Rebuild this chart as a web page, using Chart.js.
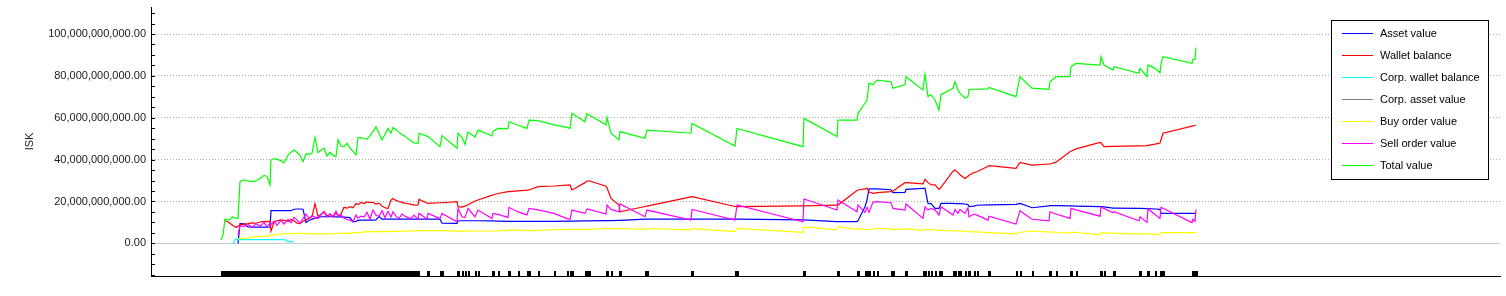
<!DOCTYPE html>
<html>
<head>
<meta charset="utf-8">
<title>ISK</title>
<script src="https://cdn.jsdelivr.net/npm/chart.js@4.4.0/dist/chart.umd.min.js"></script>
<style>
    html, body { margin: 0; padding: 0; background: #fff; }
</style>
</head>
<body>
<canvas id="grafico" width="1506" height="296"></canvas>
<script>
//Días desde la primera captura (eje x sin etiquetas)
const days = [
    0, 2, 4, 8, 12, 15, 17, 19, 23, 27,
    31, 35, 39, 43, 46, 49, 50, 53, 56, 60,
    63, 67, 70, 73, 76, 79, 82, 85, 88, 91,
    94, 97, 100, 103, 106, 109, 112, 115, 117, 120,
    123, 126, 129, 132, 135, 137, 140, 143, 146, 149,
    152, 155, 158, 161, 164, 167, 170, 172, 175, 178,
    181, 184, 187, 190, 193,
    197, 198, 206, 207, 219, 221, 236, 237, 241, 244,
    247, 254, 257, 271, 272, 277, 287, 288, 297, 306,
    308, 317, 333, 346, 349, 351, 364, 366, 368, 385,
    386, 390, 398, 399, 424, 426, 470, 471, 514, 516,
    582, 583, 616, 617, 636, 637, 644, 646, 648, 652,
    656, 670, 672, 684, 685, 702, 704, 707, 710, 714,
    718, 720, 732, 734, 737, 739, 744, 747, 748, 753,
    756, 767, 768, 795, 799, 811, 828, 829, 835, 849,
    850, 855, 879, 880, 883, 892, 893, 918, 919, 926,
    927, 934, 939, 940, 942, 971, 972, 974, 975
];

//Valores en miles de millones de ISK
const assetValue = [
    null, null, null, null, null, null, 0.0, 9.4, 9.3, 7.8,
    7.7, 7.7, 7.7, 7.7, 7.7, 7.8, 15.6, 15.6, 15.6, 15.6,
    15.6, 15.6, 15.6, 16.3, 16.4, 16.4, 16.3, 10.0, 11.0, 11.6,
    12.0, 12.4, 12.7, 12.7, 12.8, 12.7, 12.7, 12.6, 12.6, 12.6,
    12.5, 12.4, 12.3, 10.3, 10.5, 11.0, 11.1, 11.1, 11.1, 11.1,
    11.1, 11.2, 12.8, 11.6, 11.6, 11.6, 11.6, 11.6, 11.6, 11.6,
    11.6, 11.6, 11.6, 11.6, 11.6,
    11.6, 11.6, 11.6, 11.6, 11.6, 9.6, 9.5, 10.8, 10.8, 10.8,
    10.8, 10.8, 10.8, 10.7, 10.7, 10.6, 10.5, 10.5, 10.5, 10.5,
    10.5, 10.5, 10.5, 10.6, 10.6, 10.6, 10.7, 10.7, 10.7, 10.9,
    10.9, 10.9, 11.0, 11.0, 11.6, 11.6, 11.6, 11.6, 11.6, 11.6,
    11.2, 11.2, 10.4, 10.4, 10.4, 10.8, 17.5, 20.7, 26.0, 26.0,
    26.0, 25.6, 24.2, 24.3, 25.8, 26.3, 26.3, 19.1, 19.0, 16.7,
    16.7, 19.1, 19.1, 19.0, 19.0, 19.0, 18.8, 18.5, 17.5, 17.8,
    18.2, 18.4, 18.4, 18.6, 19.1, 17.0, 17.9, 18.0, 18.0, 17.9,
    17.9, 17.8, 17.5, 17.5, 17.4, 16.8, 16.8, 16.7, 16.7, 16.6,
    16.6, 16.4, 16.2, 14.3, 14.3, 14.3, 14.3, 14.3, 14.3
];

const walletBalance = [
    null, null, 10.8, 10.0, 8.5, 7.6, 8.2, 8.8, 9.2, 9.4,
    9.8, 9.6, 10.2, 10.5, 10.4, 10.6, 5.8, 10.2, 10.8, 11.2,
    11.0, 10.5, 11.4, 10.8, 9.6, 9.4, 10.6, 11.2, 12.0, 12.8,
    19.0, 13.0, 13.6, 15.2, 13.0, 14.0, 12.5, 14.5, 13.2, 14.0,
    17.2, 16.8, 17.5, 17.0, 19.0, 18.5, 19.5, 19.0, 19.8, 19.5,
    19.6, 18.8, 19.2, 17.8, 17.0, 16.6, 20.6, 21.4, 20.5, 20.0,
    19.6, 19.2, 18.9, 18.6, 18.3,
    18.4, 21.0, 19.3, 19.1, 19.4, 19.4, 19.9, 17.5, 17.3, 17.8,
    18.4, 20.2, 20.7, 23.0, 23.1, 23.8, 24.7, 24.7, 25.1, 25.4,
    25.5, 27.1, 27.4, 27.8, 27.9, 25.5, 29.0, 29.8, 29.9, 27.3,
    26.5, 21.5, 18.3, 15.1, 17.6, 17.8, 22.2, 22.3, 17.6, 17.5,
    17.9, 17.9, 18.3, 18.3, 25.2, 25.5, 26.0, 26.3, 24.5, 23.9,
    24.2, 24.7, 25.0, 29.0, 29.0, 28.4, 30.6, 29.0, 28.0, 27.9,
    25.8, 26.8, 34.5, 35.0, 33.8, 32.8, 31.0, 32.0, 32.5, 33.8,
    34.2, 36.8, 37.1, 35.8, 38.7, 37.4, 37.9, 37.9, 38.8, 43.8,
    44.0, 45.1, 48.2, 48.0, 46.2, 46.3, 46.3, 46.6, 46.6, 46.7,
    46.8, 47.4, 47.9, 49.5, 52.6, 56.0, 56.1, 56.3, 56.4
];

const corpWalletBalance = [
    null, null, null, null, 0.0, 2.2, 1.8, 1.8, 1.8, 1.8,
    1.8, 1.8, 1.8, 1.8, 1.8, 1.8, 1.8, 1.8, 1.8, 1.8,
    1.8, 0.8, 0.8, 0.8
];

const corpAssetValue = [];

const buyOrderValue = [
    null, null, null, null, null, null, 2.0, 2.6, 2.4, 2.5,
    3.0, 3.2, 3.2, 3.3, 3.3, 3.5, 4.0, 4.0, 4.2, 4.4,
    4.5, 4.5, 4.6, 4.6, 4.7, 4.8, 4.8, 4.6, 4.6, 4.5,
    4.5, 4.6, 4.5, 4.5, 4.6, 4.6, 4.5, 4.6, 4.7, 4.8,
    4.8, 4.9, 4.8, 5.0, 5.1, 5.1, 5.2, 5.4, 5.6, 5.6,
    5.5, 5.6, 5.7, 5.6, 5.6, 5.7, 5.6, 5.7, 5.8, 5.6,
    5.7, 5.8, 5.9, 6.0, 6.0,
    6.1, 6.1, 6.1, 6.1, 6.1, 6.1, 6.0, 5.6, 5.7, 5.8,
    5.8, 5.9, 5.9, 5.9, 5.9, 5.9, 6.2, 6.4, 6.3, 6.1,
    6.1, 6.2, 6.5, 6.7, 6.7, 6.7, 6.7, 6.7, 6.7, 7.1,
    7.1, 7.0, 7.0, 7.1, 6.7, 7.1, 6.4, 7.0, 5.6, 7.1,
    5.3, 7.9, 6.4, 7.9, 6.7, 7.1, 6.6, 6.4, 6.6, 6.8,
    7.2, 6.9, 6.6, 6.8, 7.0, 6.1, 6.7, 6.6, 6.5, 6.4,
    6.2, 6.3, 5.9, 6.0, 5.9, 5.9, 5.8, 5.7, 5.6, 5.5,
    5.5, 5.1, 5.1, 4.5, 5.3, 5.9, 5.4, 5.4, 5.3, 4.9,
    5.2, 5.3, 4.0, 5.1, 5.0, 4.8, 4.8, 4.5, 4.6, 4.5,
    4.5, 4.3, 4.0, 5.1, 5.1, 5.1, 5.1, 5.1, 5.1
];

const sellOrderValue = [
    null, null, null, null, null, null, 3.8, 8.4, 8.0, 9.0,
    7.6, 9.4, 8.2, 10.0, 8.0, 9.6, 9.0, 10.6, 8.6, 11.0,
    9.2, 11.4, 9.8, 12.4, 11.2, 9.5, 12.0, 14.0, 11.8, 13.2,
    12.6, 11.8, 13.8, 15.0, 12.6, 14.0, 12.8, 15.4, 13.0, 13.6,
    12.0, 11.4, 11.1, 10.3, 13.5, 12.0, 13.0, 12.6, 14.8, 11.5,
    15.9, 13.4, 12.8, 15.6, 12.2, 15.3, 12.6, 15.1, 13.0, 11.8,
    14.0, 13.0, 12.3, 11.8, 13.5,
    11.5, 14.3, 11.6, 14.3, 11.8, 14.3, 10.3, 16.7, 12.7, 12.3,
    16.7, 12.7, 15.9, 11.9, 14.3, 13.8, 12.4, 17.2, 15.0, 13.6,
    16.7, 16.0, 14.3, 11.8, 11.5, 15.9, 14.3, 16.4, 16.2, 14.0,
    18.3, 16.2, 15.1, 18.8, 12.7, 15.9, 11.1, 16.2, 11.1, 18.3,
    10.3, 21.2, 15.9, 20.7, 15.1, 18.3, 14.8, 17.2, 14.8, 19.6,
    19.9, 19.4, 16.7, 15.9, 18.8, 11.9, 17.5, 15.9, 16.7, 16.0,
    13.5, 17.5, 13.5, 16.2, 14.3, 16.2, 14.3, 17.0, 12.7, 14.0,
    13.5, 11.1, 13.0, 9.2, 15.6, 11.5, 10.8, 15.1, 14.0, 11.9,
    16.7, 16.0, 13.0, 17.2, 16.7, 14.6, 15.1, 10.8, 12.7, 10.0,
    16.5, 13.8, 11.9, 17.2, 16.8, 9.9, 11.5, 10.5, 16.2
];

const totalValue = [
    1.6, 4.0, 11.6, 11.1, 12.7, 11.9, 11.9, 29.5, 30.3, 29.8,
    29.5, 29.8, 31.0, 32.5, 32.0, 27.9, 39.8, 40.5, 40.1, 39.5,
    38.5, 42.2, 43.5, 44.6, 43.5, 42.0, 39.0, 42.7, 42.5, 43.0,
    50.6, 43.3, 44.5, 45.5, 41.7, 43.5, 42.0, 41.4, 49.4, 46.5,
    46.2, 47.8, 45.5, 44.0, 42.2, 50.6, 50.4, 50.2, 49.7, 51.5,
    53.5, 55.7, 52.5, 49.4, 52.0, 54.9, 52.6, 55.4, 54.3, 53.0,
    52.0, 51.2, 50.0, 49.0, 48.0,
    47.8, 52.6, 51.2, 51.0, 46.2, 51.5, 45.4, 52.6, 50.5, 47.3,
    53.2, 50.8, 54.1, 51.3, 53.5, 54.9, 54.8, 58.1, 56.4, 54.9,
    58.9, 58.6, 56.6, 55.4, 54.9, 62.1, 58.1, 62.1, 61.3, 56.6,
    60.2, 52.6, 49.4, 53.4, 50.2, 54.1, 52.6, 57.3, 46.5, 54.9,
    46.2, 59.7, 51.0, 58.9, 58.9, 62.1, 66.9, 68.5, 76.5, 75.7,
    78.0, 77.2, 74.1, 75.7, 79.6, 73.3, 80.7, 70.1, 71.0, 68.5,
    63.7, 71.0, 74.1, 77.2, 73.3, 71.7, 69.3, 70.1, 73.3, 73.6,
    73.6, 73.8, 74.5, 70.1, 79.6, 74.1, 73.6, 77.2, 79.6, 79.6,
    84.4, 86.0, 85.2, 89.2, 85.2, 82.8, 84.4, 81.2, 83.6, 79.6,
    85.2, 83.6, 81.5, 86.0, 89.2, 86.0, 87.9, 87.9, 93.5
];

const seriesLabels = ['Asset value', 'Wallet balance', 'Corp. wallet balance', 'Corp. asset value',
    'Buy order value', 'Sell order value', 'Total value'];
const seriesColors = ['#0000ff', '#ff0000', '#00ffff', '#808080', '#ffff00', '#ff00ff', '#00ff00'];
const seriesValues = [assetValue, walletBalance, corpWalletBalance, corpAssetValue,
    buyOrderValue, sellOrderValue, totalValue];

//Etiquetas del eje y (miles de millones) y rango visible
const yTickValues = [0, 20, 40, 60, 80, 100];
const yMin = -15.6;
const yMax = 112.9;
const yMinorStep = 5;
const MIL_MILLONES = 1e9;

Chart.defaults.font.family = '"Liberation Sans", Arial, sans-serif';
Chart.defaults.font.size = 11;
Chart.defaults.color = '#202020';

//Convierte una serie a puntos {x, y}
function crearSerie(valores) {
    return days.map(function (d, i) {
        const v = valores[i];
        return { x: d, y: (v === undefined || v === null) ? null : v * MIL_MILLONES };
    });
}

function formatoISK(valor) {
    return valor.toLocaleString('en-US', { minimumFractionDigits: 2, maximumFractionDigits: 2 });
}

//Línea del cero, marcas del eje y, marcas de fechas y leyenda con marco
const extras = {
    id: 'extras',
    beforeDatasetsDraw(chart) {
        const { ctx, chartArea: a, scales: { y } } = chart;
        const y0 = Math.round(y.getPixelForValue(0));
        ctx.save();
        ctx.fillStyle = '#c8c8c8';
        ctx.fillRect(a.left, y0, a.right - a.left, 1);
        ctx.restore();
    },
    afterDraw(chart) {
        const { ctx, chartArea: a, scales: { x, y } } = chart;
        ctx.save();

        ctx.fillStyle = '#000';
        for (let v = Math.ceil(yMin / yMinorStep) * yMinorStep; v <= yMax; v += yMinorStep) {
            const py = Math.round(y.getPixelForValue(v * MIL_MILLONES));
            ctx.fillRect(a.left, py, 4, 1);
        }

        //marcas de cada captura: los tramos muy densos se dibujan como barra continua
        const px = days.map(function (d) { return Math.round(x.getPixelForValue(d)); });
        let i = 0;
        while (i < px.length) {
            let j = i;
            while (j + 1 < px.length && px[j + 1] - px[j] <= 4) j++;
            if (j - i >= 8) {
                ctx.fillRect(px[i], a.bottom - 5, px[j] - px[i] + 1, 5);
            } else {
                for (let k = i; k <= j; k++) ctx.fillRect(px[k], a.bottom - 5, 2, 5);
            }
            i = j + 1;
        }

        //leyenda
        const bx = a.right - 169, by = a.top + 13, bw = 157, bh = 159;
        ctx.fillStyle = '#ffffff';
        ctx.fillRect(bx, by, bw, bh);
        ctx.fillStyle = '#000000';
        ctx.fillRect(bx, by, bw, 1);
        ctx.fillRect(bx, by + bh, bw + 1, 1);
        ctx.fillRect(bx, by, 1, bh);
        ctx.fillRect(bx + bw, by, 1, bh);
        ctx.font = '11px "Liberation Sans", Arial, sans-serif';
        ctx.textBaseline = 'middle';
        chart.data.datasets.forEach(function (ds, n) {
            const ly = by + 13 + n * 22;
            ctx.fillStyle = seriesColors[n];
            ctx.fillRect(bx + 11, ly, 31, 1);
            ctx.fillStyle = '#000000';
            ctx.fillText(ds.label, bx + 49, ly + 0.5);
        });
        ctx.restore();
    }
};

var context = document.getElementById('grafico');
var grafico = new Chart(context, {
    type: 'line',
    data: {
        datasets: seriesLabels.map(function (label, i) {
            return {
                label: label,
                data: crearSerie(seriesValues[i]),
                borderColor: seriesColors[i],
                backgroundColor: seriesColors[i],
                borderWidth: 1.2,
                pointRadius: 0,
                pointHoverRadius: 0,
                tension: 0,
                fill: false,
                spanGaps: false,
                order: -i
            };
        })
    },
    options: {
        responsive: false,
        devicePixelRatio: 1,
        animation: false,
        events: [],
        layout: { padding: { left: 0, right: 6, top: 7, bottom: 20 } },
        plugins: {
            legend: { display: false },
            tooltip: { enabled: false },
            title: { display: false }
        },
        scales: {
            x: {
                type: 'linear',
                min: -70,
                max: 1279,
                ticks: { display: false },
                grid: { display: false, drawTicks: false },
                border: { display: true, color: '#000', width: 1 }
            },
            y: {
                type: 'linear',
                min: yMin * MIL_MILLONES,
                max: yMax * MIL_MILLONES,
                afterBuildTicks: function (scale) {
                    scale.ticks = yTickValues.map(function (v) { return { value: v * MIL_MILLONES }; });
                },
                afterFit: function (scale) {
                    scale.width = 151;
                    scale.paddingTop = 0;
                    scale.paddingBottom = 0;
                },
                ticks: {
                    padding: 5,
                    color: '#202020',
                    font: { size: 11 },
                    callback: function (value) { return formatoISK(value); }
                },
                grid: {
                    drawTicks: false,
                    lineWidth: 1,
                    color: function (c) {
                        return (c.tick && c.tick.value === 0) ? 'rgba(0,0,0,0)' : '#b0b0b0';
                    }
                },
                border: { display: true, color: '#000', width: 1, dash: [1, 2] },
                title: {
                    display: true,
                    text: 'ISK',
                    color: '#202020',
                    font: { size: 11 },
                    padding: { top: 23, bottom: 0 }
                }
            }
        }
    },
    plugins: [extras]
});
</script>
</body>
</html>
